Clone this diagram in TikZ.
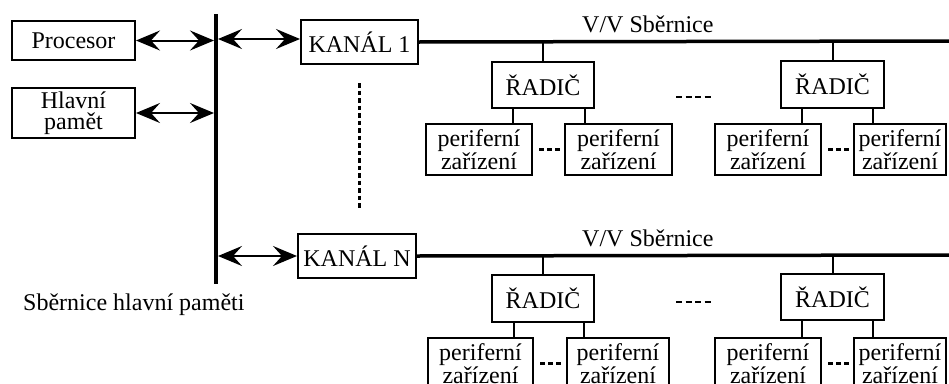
\documentclass[tikz,border=0pt]{standalone}
\usepackage{fontspec}
\setmainfont{Liberation Serif}
\usetikzlibrary{arrows.meta}
\begin{document}
\begin{tikzpicture}[x=1pt,y=-1pt,
  box/.style={draw, line width=2pt, inner sep=0pt, anchor=north west, align=center,
    font=\fontsize{24}{21}\selectfont},
  lbl/.style={inner sep=0pt, font=\fontsize{24}{21}\selectfont},
  arr/.style={line width=2pt, {Stealth[length=24pt,width=20pt,inset=9pt]}-{Stealth[length=24pt,width=20pt,inset=9pt]}},
  stem/.style={line width=2pt},
  vvbus/.style={line width=3.5pt},
  dots/.style={line width=3pt, dash pattern=on 5pt off 3pt},
  dashes/.style={line width=2.5pt, dash pattern=on 6pt off 3.5pt},
  vdots/.style={line width=3pt, dash pattern=on 4.5pt off 3pt}]
\clip (0,0) rectangle (949,383);
\fill[white] (0,0) rectangle (949,383);

% left side
\node[box, minimum width=123pt, minimum height=39pt] (proc) at (11,20) {Procesor};
\node[box, minimum width=123pt, minimum height=50pt] (mem) at (11,87) {Hlavní\\pamět};
\coordinate (bustop) at (216,14);
\coordinate (busbot) at (216,284);
\draw[line width=4.5pt] (bustop) -- (busbot);
\node[lbl, anchor=base west] (buslbl) at (23,310) {Sběrnice hlavní paměti};

\coordinate (bL1) at (214,39);
\coordinate (bL2) at (214,112);
\coordinate (bR1) at (218,39);
\coordinate (bR2) at (218,256);

\draw[arr] (proc.east) -- (proc.east -| bL1);
\draw[arr] (mem.east) -- (mem.east -| bL2);

% channel 1
\node[box, minimum width=117pt, minimum height=44pt] (k1) at (300,19) {KANÁL 1};
\draw[arr] (bR1) -- (bR1 -| k1.west);
\coordinate (vv1end) at (952,41);
\draw[vvbus] (k1.east) -- (vv1end);
\node[lbl, anchor=base west] (vv1lbl) at (582,32) {V/V Sběrnice};

% channel N
\node[box, minimum width=118pt, minimum height=44pt] (kn) at (297,233) {KANÁL N};
\draw[arr] (bR2) -- (bR2 -| kn.west);
\coordinate (vvnend) at (952,255);
\draw[vvbus] (kn.east) -- (vvnend);
\node[lbl, anchor=base west] (vvnlbl) at (582,246) {V/V Sběrnice};

% vertical dotted
\coordinate (vd1) at (359,83);
\coordinate (vd2) at (359,208);
\draw[vdots] (vd1) -- (vd2);

% row 1 controllers
\node[box, minimum width=102pt, minimum height=46pt] (r11) at (491,61) {ŘADIČ};
\node[box, minimum width=103pt, minimum height=47pt] (r12) at (780,60) {ŘADIČ};
\draw[stem] (r11.north) -- (r11.north |- k1.east);
\draw[stem] (r12.north) -- (r12.north |- k1.east);
\coordinate (dd1a) at (676,97);
\coordinate (dd1b) at (712,97);
\draw[dashes] (dd1a) -- (dd1b);

\node[box, minimum width=106pt, minimum height=51pt] (p11) at (425,123) {periferní\\zařízení};
\node[box, minimum width=107pt, minimum height=51pt] (p12) at (564,123) {periferní\\zařízení};
\node[box, minimum width=106pt, minimum height=51pt] (p13) at (714,123) {periferní\\zařízení};
\node[box, minimum width=92pt, minimum height=51pt] (p14) at (853,123) {periferní\\zařízení};
\draw[stem] ([xshift=22pt]r11.south west) -- ([xshift=22pt]r11.south west |- p11.north);
\draw[stem] ([xshift=-10pt]r11.south east) -- ([xshift=-10pt]r11.south east |- p12.north);
\draw[stem] ([xshift=22pt]r12.south west) -- ([xshift=22pt]r12.south west |- p13.north);
\draw[stem] ([xshift=-12pt]r12.south east) -- ([xshift=-12pt]r12.south east |- p14.north);
\draw[dots] ([xshift=6pt]p11.east) -- ([xshift=-4pt]p12.west);
\draw[dots] ([xshift=6pt]p13.east) -- ([xshift=-4pt]p14.west);

% row 2 controllers
\node[box, minimum width=102pt, minimum height=47pt] (r21) at (491,274) {ŘADIČ};
\node[box, minimum width=103pt, minimum height=46pt] (r22) at (780,273) {ŘADIČ};
\draw[stem] (r21.north) -- (r21.north |- kn.east);
\draw[stem] (r22.north) -- (r22.north |- kn.east);
\coordinate (dd2a) at (676,302);
\coordinate (dd2b) at (712,302);
\draw[dashes] (dd2a) -- (dd2b);

\node[box, minimum width=105pt, minimum height=51pt] (p21) at (427,337) {periferní\\zařízení};
\node[box, minimum width=102pt, minimum height=51pt] (p22) at (566,337) {periferní\\zařízení};
\node[box, minimum width=106pt, minimum height=51pt] (p23) at (714,337) {periferní\\zařízení};
\node[box, minimum width=92pt, minimum height=51pt] (p24) at (853,337) {periferní\\zařízení};
\draw[stem] ([xshift=23pt]r21.south west) -- ([xshift=23pt]r21.south west |- p21.north);
\draw[stem] ([xshift=-11pt]r21.south east) -- ([xshift=-11pt]r21.south east |- p22.north);
\draw[stem] ([xshift=22pt]r22.south west) -- ([xshift=22pt]r22.south west |- p23.north);
\draw[stem] ([xshift=-12pt]r22.south east) -- ([xshift=-12pt]r22.south east |- p24.north);
\draw[dots] ([xshift=6pt]p21.east) -- ([xshift=-4pt]p22.west);
\draw[dots] ([xshift=6pt]p23.east) -- ([xshift=-4pt]p24.west);
\end{tikzpicture}
\end{document}
